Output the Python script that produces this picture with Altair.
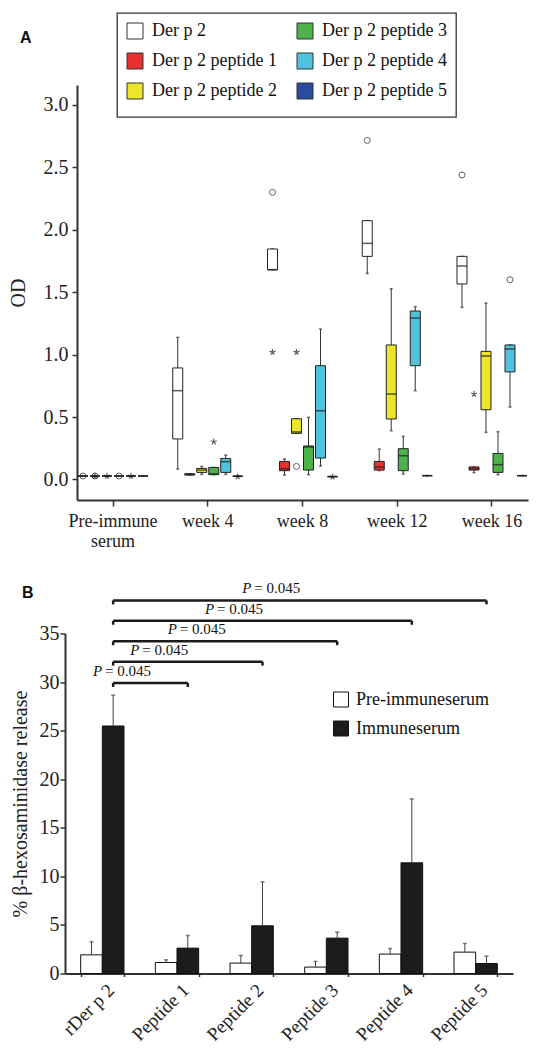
import altair as alt
import pandas as pd

FONT = "Liberation Serif"
INK = "#222222"

# ---------------- Panel A: OD box plots ----------------
times = ["Pre-immune serum", "week 4", "week 8", "week 12", "week 16"]
series = ["Der p 2", "Der p 2 peptide 1", "Der p 2 peptide 2",
          "Der p 2 peptide 3", "Der p 2 peptide 4", "Der p 2 peptide 5"]
series_colors = ["#ffffff", "#e8312f", "#eee42b", "#4eb24b", "#51c2db", "#2a4c9d"]

# five-number summaries: one row per time point, one column per antigen
box_lo = [
    [0.027, 0.027, 0.027, 0.027, 0.027, 0.027],
    [0.083, 0.035, 0.040, 0.038, 0.040, 0.025],
    [1.680, 0.035, 0.369, 0.038, 0.107, 0.022],
    [1.650, 0.070, 0.390, 0.043, 0.711, 0.030],
    [1.378, 0.054, 0.377, 0.038, 0.580, 0.030],
]
box_q1 = [
    [0.027, 0.027, 0.027, 0.027, 0.027, 0.027],
    [0.324, 0.035, 0.056, 0.038, 0.056, 0.025],
    [1.680, 0.070, 0.369, 0.075, 0.171, 0.022],
    [1.787, 0.075, 0.484, 0.070, 0.911, 0.030],
    [1.566, 0.075, 0.558, 0.056, 0.861, 0.030],
]
box_med = [
    [0.027, 0.027, 0.027, 0.027, 0.027, 0.027],
    [0.711, 0.040, 0.075, 0.045, 0.142, 0.025],
    [1.680, 0.085, 0.380, 0.260, 0.550, 0.022],
    [1.891, 0.099, 0.684, 0.190, 1.293, 0.030],
    [1.710, 0.085, 0.989, 0.118, 1.045, 0.030],
]
box_q3 = [
    [0.027, 0.027, 0.027, 0.027, 0.027, 0.027],
    [0.893, 0.045, 0.088, 0.096, 0.168, 0.025],
    [1.846, 0.144, 0.486, 0.268, 0.911, 0.022],
    [2.073, 0.144, 1.077, 0.246, 1.349, 0.030],
    [1.787, 0.100, 1.026, 0.208, 1.077, 0.030],
]
box_hi = [
    [0.027, 0.027, 0.027, 0.027, 0.027, 0.027],
    [1.138, 0.045, 0.104, 0.096, 0.195, 0.025],
    [1.846, 0.163, 0.486, 0.497, 1.205, 0.022],
    [2.073, 0.243, 1.528, 0.345, 1.384, 0.030],
    [1.787, 0.100, 1.413, 0.382, 1.077, 0.030],
]

circ_time = ["Pre-immune serum", "Pre-immune serum", "Pre-immune serum",
             "week 8", "week 8", "week 12", "week 16", "week 16"]
circ_series = ["Der p 2", "Der p 2 peptide 1", "Der p 2 peptide 3",
               "Der p 2", "Der p 2 peptide 2", "Der p 2", "Der p 2", "Der p 2 peptide 4"]
circ_value = [0.027, 0.027, 0.027, 2.30, 0.104, 2.716, 2.439, 1.60]

star_time = ["Pre-immune serum", "Pre-immune serum", "Pre-immune serum",
             "week 4", "week 4", "week 8", "week 8", "week 8", "week 16"]
star_series = ["Der p 2 peptide 1", "Der p 2 peptide 2", "Der p 2 peptide 4",
               "Der p 2 peptide 3", "Der p 2 peptide 5", "Der p 2",
               "Der p 2 peptide 2", "Der p 2 peptide 5", "Der p 2 peptide 1"]
star_value = [0.027, 0.027, 0.027, 0.302, 0.022, 1.02, 1.02, 0.02, 0.684]

# ---------------- Panel B: beta-hexosaminidase release ----------------
groups = ["rDer p 2", "Peptide 1", "Peptide 2", "Peptide 3", "Peptide 4", "Peptide 5"]
sera = ["Pre-immuneserum", "Immuneserum"]
pre_mean = [1.92, 1.13, 1.07, 0.66, 2.00, 2.20]
pre_sd = [1.34, 0.28, 0.78, 0.58, 0.57, 0.89]
imm_mean = [25.48, 2.61, 4.91, 3.64, 11.39, 1.03]
imm_sd = [3.16, 1.30, 4.52, 0.62, 6.58, 0.76]
cmp_targets = ["Peptide 1", "Peptide 2", "Peptide 3", "Peptide 4", "Peptide 5"]
cmp_level = [29.9, 32.1, 34.2, 36.3, 38.4]
cmp_p = ["0.045", "0.045", "0.045", "0.045", "0.045"]

# ---------------- tables ----------------
rows = []
for ti, t in enumerate(times):
    for si, s in enumerate(series):
        rows.append(dict(time=t, series=s, lo=box_lo[ti][si], q1=box_q1[ti][si],
                         med=box_med[ti][si], q3=box_q3[ti][si], hi=box_hi[ti][si]))
boxes = pd.DataFrame(rows)
circles = pd.DataFrame(dict(time=circ_time, series=circ_series, value=circ_value))
stars = pd.DataFrame(dict(time=star_time, series=star_series, value=star_value))

rowsB = []
for gi, g in enumerate(groups):
    rowsB.append(dict(group=g, serum=sera[0], mean=pre_mean[gi], top=pre_mean[gi] + pre_sd[gi]))
    rowsB.append(dict(group=g, serum=sera[1], mean=imm_mean[gi], top=imm_mean[gi] + imm_sd[gi]))
bars = pd.DataFrame(rowsB)
cmp = pd.DataFrame(dict(
    ref=[groups[0]] * len(cmp_targets),
    target=cmp_targets,
    level=cmp_level,
    tickend=[v - 0.4 for v in cmp_level],
    steps=[groups.index(t) for t in cmp_targets],
    p=["= " + v for v in cmp_p],
))

# ---------------- Panel A chart ----------------
WA, HA = 451, 415
scale_xA = alt.Scale(domain=times, paddingInner=0.24, paddingOuter=0)
axis_xA = alt.Axis(title=None, labelFont=FONT, labelFontSize=18, labelPadding=6,
                   labelLineHeight=20, tickSize=6, labelAngle=0,
                   labelExpr="datum.label == 'Pre-immune serum' ? ['Pre-immune', 'serum'] : datum.label")


def xA():
    return alt.X("time:N", scale=scale_xA, axis=axis_xA)


def xoA():
    return alt.XOffset("series:N", scale=alt.Scale(domain=series, paddingInner=0, paddingOuter=0))


scale_yA = alt.Scale(domain=[-0.165, 3.16], nice=False, zero=False)
axis_yA = alt.Axis(title="OD", values=[0, 0.5, 1, 1.5, 2, 2.5, 3], format=".1f",
                   labelFont=FONT, titleFont=FONT, labelFontSize=20, titleFontSize=20,
                   tickSize=5, labelPadding=4, titlePadding=15)


def yA(f):
    return alt.Y(f"{f}:Q", scale=scale_yA, axis=axis_yA)


legA = alt.Legend(title=" ", titleOrient="bottom", titleFontSize=7, titlePadding=0,
                  orient="none", legendX=40, legendY=-72, columns=2, columnPadding=18,
                  rowPadding=10, padding=9, strokeColor="#333",
                  fillColor="white", symbolType="square", symbolSize=256,
                  symbolStrokeColor="#333", symbolStrokeWidth=1, labelFont=FONT,
                  labelFontSize=18, labelOffset=8, labelLimit=0, labelColor="#111")

STAR = "M0,-1L0,0M0,0L0.95,-0.31M0,0L0.59,0.81M0,0L-0.59,0.81M0,0L-0.95,-0.31"

whisk = alt.Chart(boxes).mark_rule(color="#333", strokeWidth=1).encode(
    x=xA(), xOffset=xoA(), y=yA("lo"), y2="hi")
cap_lo = alt.Chart(boxes).mark_tick(color="#333", size=3, thickness=1.5).encode(
    x=xA(), xOffset=xoA(), y=yA("lo"))
cap_hi = alt.Chart(boxes).mark_tick(color="#333", size=3, thickness=1.5).encode(
    x=xA(), xOffset=xoA(), y=yA("hi"))
box = alt.Chart(boxes).mark_bar(size=10, stroke="#222", strokeWidth=1).encode(
    x=xA(), xOffset=xoA(), y=yA("q1"), y2="q3",
    fill=alt.Fill("series:N", scale=alt.Scale(domain=series, range=series_colors),
                  legend=legA))
med = alt.Chart(boxes).mark_tick(color="#222", size=10, thickness=1.6).encode(
    x=xA(), xOffset=xoA(), y=yA("med"))
circ = alt.Chart(circles).mark_point(shape="circle", filled=False, size=36,
                                     color="#222", strokeWidth=1).encode(
    x=xA(), xOffset=xoA(), y=yA("value"))
star = alt.Chart(stars).mark_point(shape=STAR, filled=False, size=40,
                                   color="#222", strokeWidth=1.2).encode(
    x=xA(), xOffset=xoA(), y=yA("value"))
letterA = alt.Chart(pd.DataFrame({"t": ["A"]})).mark_text(
    font="Liberation Sans", fontSize=16, fontWeight="bold", align="left",
    baseline="middle", color="#111").encode(text="t:N", x=alt.value(-57), y=alt.value(-47))

panelA = alt.layer(whisk, cap_lo, cap_hi, box, med, circ, star, letterA).properties(
    width=WA, height=HA)

# ---------------- Panel B chart ----------------
WB, HB = 436, 340
scale_xB = alt.Scale(domain=groups, range=[-12, WB], paddingInner=0.42, paddingOuter=0.21)
axis_xB = alt.Axis(title=None, labelFont=FONT, labelAngle=315, labelAlign="right",
                   labelBaseline="top", labelFontSize=19, labelPadding=4, labelOffset=2,
                   tickBand="extent", tickSize=3)


def xB(field="group", bp=None):
    if bp is None:
        return alt.X(f"{field}:N", scale=scale_xB, axis=axis_xB)
    return alt.X(f"{field}:N", scale=scale_xB, axis=axis_xB, bandPosition=bp)


def xoB():
    return alt.XOffset("serum:N", scale=alt.Scale(domain=sera, paddingInner=0, paddingOuter=0))


scale_yB = alt.Scale(domain=[0, 35], nice=False, zero=True)
axis_yB = alt.Axis(title="% β-hexosaminidase release", values=[0, 5, 10, 15, 20, 25, 30, 35],
                   offset=12, labelFont=FONT, titleFont=FONT, labelFontSize=20,
                   titleFontSize=20, tickSize=5, labelPadding=1, titlePadding=9)


def yB(f):
    return alt.Y(f"{f}:Q", scale=scale_yB, axis=axis_yB)


legB = alt.Legend(title=None, orient="none", legendX=255, legendY=57,
                  symbolType="square", symbolSize=225, symbolStrokeColor="#111",
                  symbolStrokeWidth=1, labelFont=FONT, labelFontSize=18, labelOffset=6,
                  rowPadding=9, padding=0, labelLimit=0, labelColor="#111")

barsB = alt.Chart(bars).mark_bar(stroke="#111", strokeWidth=1).encode(
    x=xB(), xOffset=xoB(), y=yB("mean"),
    fill=alt.Fill("serum:N", scale=alt.Scale(domain=sera, range=["#ffffff", "#1c1c1c"]),
                  legend=legB))
errB = alt.Chart(bars).mark_rule(color="#444", strokeWidth=1).encode(
    x=xB(), xOffset=xoB(), y=yB("mean"), y2="top")
capB = alt.Chart(bars).mark_tick(color="#444", size=4, thickness=1.5).encode(
    x=xB(), xOffset=xoB(), y=yB("top"))

half_step = (WB + 12) / len(groups) / 2
brk = alt.Chart(cmp).mark_rule(color="#1a1a1a", strokeWidth=2.5).encode(
    x=xB("ref", 0.75), x2=alt.X2("target:N", bandPosition=0.75), y=yB("level"))
brk_l = alt.Chart(cmp).mark_rule(color="#1a1a1a", strokeWidth=2.5).encode(
    x=xB("ref", 0.75), y=yB("level"), y2="tickend")
brk_r = alt.Chart(cmp).mark_rule(color="#1a1a1a", strokeWidth=2.5).encode(
    x=xB("target", 0.75), y=yB("level"), y2="tickend")
xo_mid = alt.XOffset("steps:Q", scale=alt.Scale(domain=[0, 1], range=[0, half_step], zero=True))
p_it = alt.Chart(cmp).mark_text(text="P", font=FONT, fontStyle="italic", fontSize=15,
                                align="left", baseline="alphabetic", dx=-25, dy=-7,
                                color="#111").encode(
    x=xB("ref", 0.75), xOffset=xo_mid, y=yB("level"))
p_val = alt.Chart(cmp).mark_text(font=FONT, fontSize=15, align="left",
                                 baseline="alphabetic", dx=-13, dy=-7,
                                 color="#111").encode(
    x=xB("ref", 0.75), xOffset=xo_mid, y=yB("level"), text="p:N")
letterB = alt.Chart(pd.DataFrame({"t": ["B"]})).mark_text(
    font="Liberation Sans", fontSize=16, fontWeight="bold", align="left",
    baseline="middle", color="#111").encode(text="t:N", x=alt.value(-55), y=alt.value(-41))

panelB = alt.layer(barsB, errB, capB, brk, brk_l, brk_r, p_it, p_val, letterB).resolve_scale(
    xOffset="independent").properties(width=WB, height=HB)

chart = alt.vconcat(panelA, panelB, spacing=133.5, bounds="flush").resolve_scale(
    fill="independent"
).properties(
    padding={"left": 0, "top": 4, "right": 5, "bottom": 0}
).configure_view(stroke=None).configure_axis(
    domainColor="#333", domainWidth=2, tickColor="#333", tickWidth=1.5,
    labelColor=INK, titleColor=INK, labelFont=FONT, titleFont=FONT,
    titleFontWeight="normal", grid=False
).configure_legend(strokeWidth=1.3)

chart.save("out.html", embed_options={"renderer": "svg", "actions": False})
